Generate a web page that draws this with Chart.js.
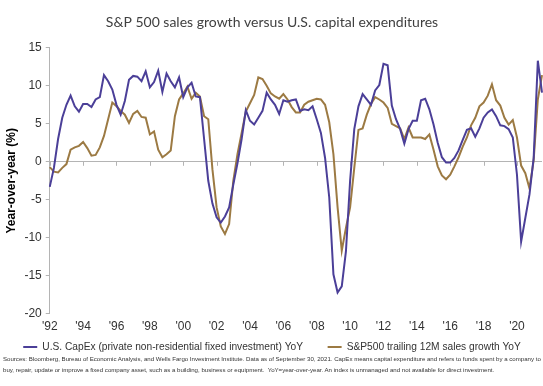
<!DOCTYPE html>
<html>
<head>
<meta charset="utf-8">
<script src="https://cdn.jsdelivr.net/npm/chart.js@4.4.1/dist/chart.umd.min.js"></script>
<style>
  html, body { margin: 0; padding: 0; background: #fff; }
  #wrap { position: relative; width: 543px; height: 386px; }
  #note {
    position: absolute; left: 3px; top: 353px;
    font-family: "Liberation Sans", Arial, sans-serif;
    font-size: 6.1px; line-height: 11px; color: #333;
    white-space: nowrap;
  }
</style>
</head>
<body>
<div id="wrap">
  <canvas id="capexChart"></canvas>
  <div id="note">Sources: Bloomberg, Bureau of Economic Analysis, and Wells Fargo Investment Institute. Data as of September 30, 2021. CapEx means capital expenditure and refers to funds spent by a company to<br>buy, repair, update or improve a fixed company asset, such as a building, business or equipment.&nbsp; YoY=year-over-year. An index is unmanaged and not available for direct investment.</div>
</div>
<script>
// quarterly, 1992 Q1 .. 2021 Q3
const firstYear = 1992;
const lastYear = 2021;
const lastQuarter = 3;

const xTickLabels = ["'92", "'94", "'96", "'98", "'00", "'02", "'04", "'06", "'08", "'10", "'12", "'14", "'16", "'18", "'20"];

// U.S. CapEx (private non-residential fixed investment) YoY, %
const capexYoY = [
  -3.3, -0.8, 3.0, 5.8,
  7.5, 8.7, 7.3, 6.6,
  7.6, 7.6, 7.2, 8.2,
  8.5, 11.4, 10.6, 9.5,
  7.5, 6.2, 8.0, 10.8,
  11.3, 11.2, 10.6, 11.9,
  9.8, 10.5, 12.0, 9.2,
  11.6, 10.6, 9.8, 11.1,
  8.5, 9.8, 10.4, 8.6,
  8.5, 3.0, -2.5, -5.5,
  -7.3, -8.0, -7.2, -6.0,
  -3.0, -0.2, 3.0, 6.8,
  5.4, 4.9, 5.8, 6.7,
  9.1, 8.2, 7.5, 6.3,
  8.1, 7.9, 8.1, 8.2,
  6.7, 6.9, 6.8, 7.3,
  5.6, 3.8, 0.5, -4.7,
  -14.8, -17.2, -16.4, -11.8,
  -2.5, 4.3, 7.3, 8.9,
  8.2, 7.5, 9.4, 10.1,
  12.9, 12.7, 7.4, 5.6,
  4.3, 2.4, 4.3, 5.4,
  5.4, 8.1, 8.3, 6.9,
  4.9, 2.5, 0.6, -0.1,
  -0.1, 0.5, 1.5, 2.9,
  4.2, 4.4, 3.3, 4.4,
  5.8, 6.5, 6.9, 6.0,
  4.8, 4.7, 4.3, 3.2,
  -1.7, -10.5, -7.4, -4.3,
  0.5, 13.3, 9.1
];

// S&P 500 trailing 12M sales growth YoY, %
const salesYoY = [
  -0.7, -1.3, -1.4, -0.8,
  -0.3, 1.6, 1.9, 2.1,
  2.6, 1.8, 0.8, 0.9,
  1.9, 3.4, 5.6, 7.8,
  7.3, 6.7, 6.2, 5.1,
  6.3, 6.7, 5.9, 5.8,
  3.6, 4.0, 1.6, 0.6,
  1.0, 1.5, 6.0, 8.2,
  9.0, 9.9, 8.3, 9.1,
  8.6, 6.0, 5.6, -1.0,
  -6.0, -8.5, -9.5, -8.2,
  -2.5, 1.0, 3.8, 6.6,
  7.7, 8.8, 11.1, 10.9,
  10.0, 9.0, 8.6, 8.3,
  8.9, 8.2, 7.2, 6.5,
  6.5, 7.5, 7.9, 8.1,
  8.3, 8.2, 7.5, 5.2,
  1.0, -6.0, -11.7, -8.7,
  -6.0, -0.8, 4.2, 4.4,
  6.2, 7.6, 8.5, 8.2,
  7.8, 7.1, 5.0, 4.7,
  4.4, 3.0, 4.5, 3.2,
  3.2, 3.2, 3.0, 3.6,
  1.6, -0.6, -1.8, -2.3,
  -1.7, -0.6, 0.6, 2.0,
  3.2, 4.8, 5.8, 7.3,
  7.8, 8.7, 10.2, 8.1,
  7.4, 5.8, 4.9, 5.5,
  3.2, -0.5, -1.5, -3.5,
  0.2, 8.2, 11.4
];

const quarters = [];
for (let y = firstYear; y <= lastYear; y++) {
  for (let q = 1; q <= 4; q++) {
    if (y === lastYear && q > lastQuarter) break;
    quarters.push(y + ' Q' + q);
  }
}

const fontFamily = '"Liberation Sans", Arial, sans-serif';
const axisGray = '#b4b4b4';

// small tick marks hanging off the zero line, one per x label
const zeroLineTicks = {
  id: 'zeroLineTicks',
  beforeDatasetsDraw(chart) {
    const x = chart.scales.x, y = chart.scales.y;
    const y0 = y.getPixelForValue(0);
    const ctx = chart.ctx;
    ctx.save();
    ctx.strokeStyle = axisGray;
    ctx.lineWidth = 1;
    ctx.beginPath();
    for (let i = 0; i < quarters.length; i += 8) {
      const px = Math.round(x.getPixelForValue(i)) + 0.5;
      ctx.moveTo(px, y0);
      ctx.lineTo(px, y0 + 4);
    }
    ctx.stroke();
    ctx.restore();
  }
};

let ctx = document.getElementById('capexChart').getContext('2d');

let capexChart = new Chart(ctx, {
  type: 'line',
  data: {
    labels: quarters,
    datasets: [{
      label: 'U.S. CapEx (private non-residential fixed investment) YoY',
      data: capexYoY,
      borderColor: '#4b3f98',
      backgroundColor: '#4b3f98',
      borderWidth: 2,
      pointRadius: 0,
      tension: 0,
    }, {
      label: 'S&P500 trailing 12M sales growth YoY',
      data: salesYoY,
      borderColor: '#9c7a43',
      backgroundColor: '#9c7a43',
      borderWidth: 2,
      pointRadius: 0,
      tension: 0,
    }]
  },
  options: {
    responsive: true,
    maintainAspectRatio: false,
    animation: false,
    layout: {
      padding: { left: 2, right: 1, top: 0, bottom: 24 }
    },
    plugins: {
      title: {
        display: true,
        text: 'S&P 500 sales growth versus U.S. capital expenditures',
        color: '#404040',
        font: { family: 'Lato, ' + fontFamily, size: 14, weight: 'normal' },
        padding: { top: 14, bottom: 17 },
      },
      legend: {
        display: true,
        position: 'bottom',
        labels: {
          usePointStyle: true,
          pointStyle: 'line',
          pointStyleWidth: 14,
          boxHeight: 2,
          padding: 2,
          color: '#333',
          font: { family: fontFamily, size: 10.2 },
          generateLabels: function (chart) {
            const items = Chart.defaults.plugins.legend.labels.generateLabels(chart);
            // a wider gap between the two entries, as in the original
            items[0].text = items[0].text + '        ';
            return items;
          }
        }
      },
      tooltip: { enabled: false },
    },
    scales: {
      x: {
        grid: { display: false, drawTicks: false },
        border: { display: false },
        ticks: {
          autoSkip: false,
          maxRotation: 0,
          minRotation: 0,
          padding: 7,
          color: '#333',
          font: { family: fontFamily, size: 12, lineHeight: 1 },
          callback: function (value, index) {
            return index % 8 === 0 ? xTickLabels[index / 8] : null;
          }
        }
      },
      y: {
        min: -20,
        max: 15,
        ticks: {
          stepSize: 5,
          padding: 4,
          color: '#333',
          font: { family: fontFamily, size: 12 },
        },
        grid: {
          color: (c) => c.tick && c.tick.value === 0 ? axisGray : 'transparent',
          tickColor: axisGray,
          tickLength: 4,
        },
        border: { color: axisGray },
        title: {
          display: true,
          text: 'Year-over-year (%)',
          color: '#000',
          font: { family: fontFamily, size: 12, weight: 'bold' },
          padding: { top: 2, bottom: 2 },
        }
      }
    }
  },
  plugins: [zeroLineTicks]
});
</script>
</body>
</html>
